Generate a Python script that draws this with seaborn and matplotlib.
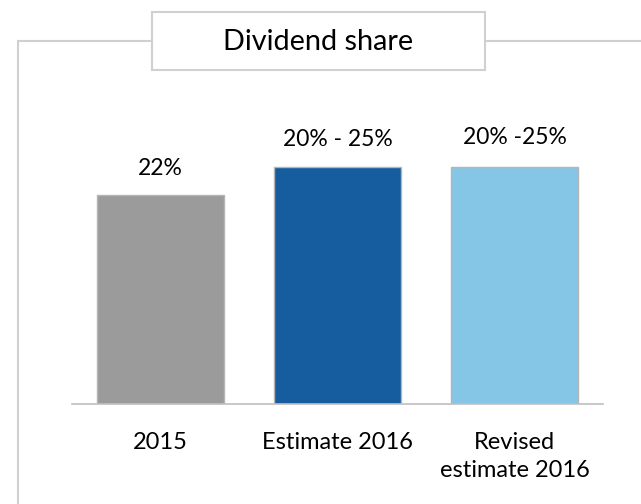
import matplotlib
matplotlib.use('Agg')
import matplotlib.pyplot as plt
import seaborn as sns
from matplotlib.patches import Rectangle
from matplotlib.lines import Line2D

categories = ['2015', 'Estimate 2016', 'Revised\nestimate 2016']
values = [22, 25, 25]
value_labels = ['22%', '20% - 25%', '20% -25%']
colors = ['#9b9b9b', '#155d9f', '#85c5e5']
title = 'Dividend share'

sns.set_style('white')
plt.rcParams['font.family'] = ['Lato', 'DejaVu Sans']

W, H = 641, 504
fig = plt.figure(figsize=(W / 100, H / 100), dpi=100)
ax = fig.add_axes([72 / W, (H - 404) / H, (603 - 72) / W, (404 - 41) / H])

sns.barplot(x=categories, y=values, hue=categories, palette=colors, legend=False,
            width=0.72, edgecolor='#b5b5b5', linewidth=1, saturation=1, ax=ax)

# value labels above bars
pads = [12, 12, 14]
for cont, lab, p in zip(ax.containers, value_labels, pads):
    ax.bar_label(cont, labels=[lab], padding=p, fontsize=16.5, color='black')

ax.set_xlim(-0.5, 2.5)
ax.set_ylim(0, 38.3)
ax.set_yticks([])
ax.set_xlabel('')
ax.set_ylabel('')
for s in ['top', 'right', 'left']:
    ax.spines[s].set_visible(False)
ax.spines['bottom'].set_color('#bfbfbf')
ax.spines['bottom'].set_linewidth(1.2)

# tick marks between categories, labels centered under bars
ax.set_xticks([-0.5, 0.5, 1.5, 2.5], minor=True)
ax.tick_params(axis='x', which='minor', length=6, width=1.2, color='#bfbfbf', direction='out')
ax.tick_params(axis='x', which='major', length=0, pad=20, labelsize=17, labelcolor='black')
for t in ax.get_xticklabels():
    t.set_verticalalignment('top')
    t.set_linespacing(1.4)

# outer frame and title box (figure pixels)
frame_col = '#d0d0d0'
def fx(x): return x / W
def fy(y): return 1 - y / H
fig.add_artist(Line2D([fx(18), fx(18)], [fy(504), fy(41)], color=frame_col, lw=1.5))
fig.add_artist(Line2D([fx(18), fx(152)], [fy(41), fy(41)], color=frame_col, lw=1.5))
fig.add_artist(Line2D([fx(485), fx(641)], [fy(41), fy(41)], color=frame_col, lw=1.5))
fig.add_artist(Rectangle((fx(152), fy(70)), fx(485) - fx(152), fy(12) - fy(70),
                         transform=fig.transFigure, facecolor='white',
                         edgecolor=frame_col, lw=1.5))
fig.text(fx(318), fy(42), title, ha='center', va='center', fontsize=20.8, color='black')

fig.savefig('out.png', dpi=100)
